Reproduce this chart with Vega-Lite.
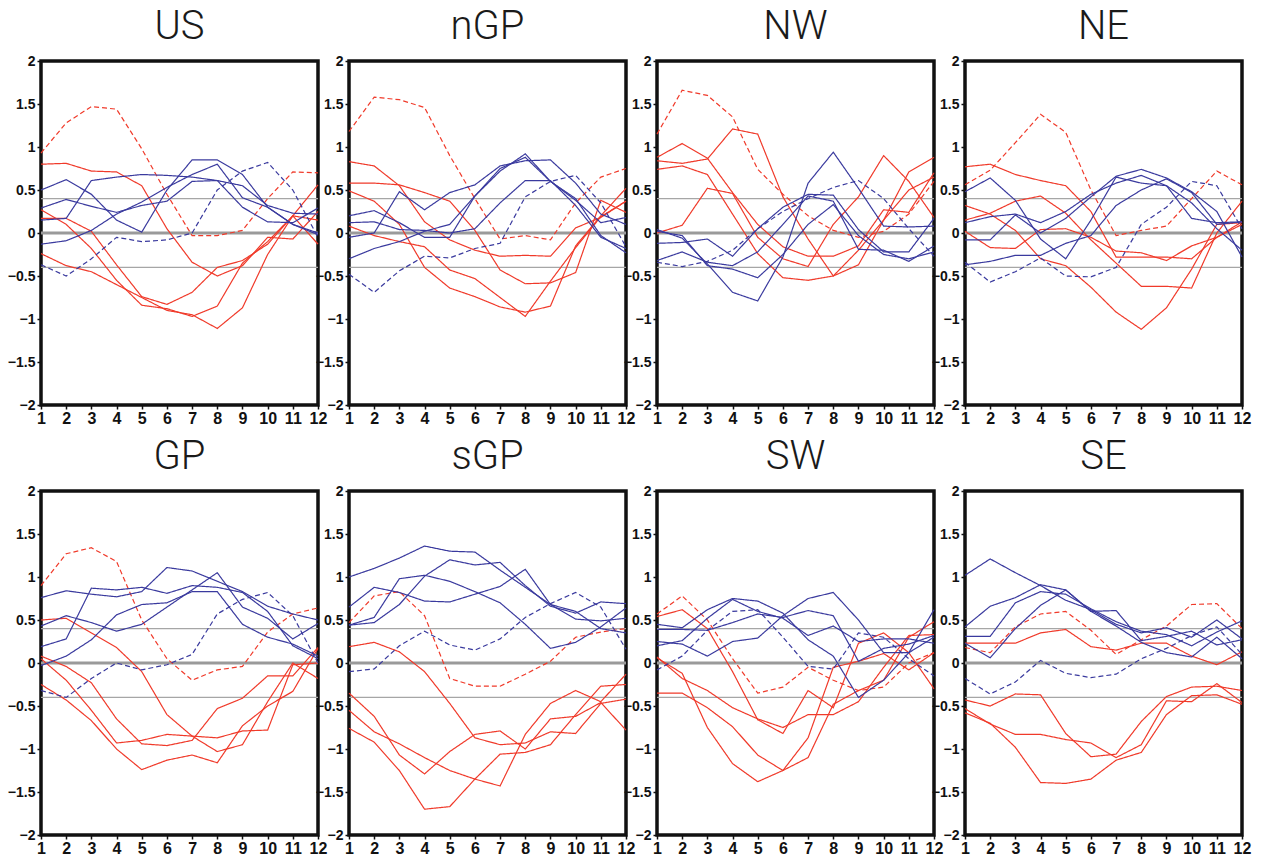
{
"$schema": "https://vega.github.io/schema/vega-lite/v6.json",
"background": "white",
"padding": {"left": 5, "top": 5, "right": 5, "bottom": 5},
"bounds": "flush",
"data": {"values": [
{"r":"US","s":"rd","m":1,"v":0.93},{"r":"US","s":"rd","m":2,"v":1.28},{"r":"US","s":"rd","m":3,"v":1.47},{"r":"US","s":"rd","m":4,"v":1.44},{"r":"US","s":"rd","m":5,"v":0.98},{"r":"US","s":"rd","m":6,"v":0.45},{"r":"US","s":"rd","m":7,"v":-0.03},{"r":"US","s":"rd","m":8,"v":-0.03},{"r":"US","s":"rd","m":9,"v":0.03},{"r":"US","s":"rd","m":10,"v":0.4},{"r":"US","s":"rd","m":11,"v":0.71},{"r":"US","s":"rd","m":12,"v":0.7},
{"r":"US","s":"r1","m":1,"v":0.8},{"r":"US","s":"r1","m":2,"v":0.81},{"r":"US","s":"r1","m":3,"v":0.72},{"r":"US","s":"r1","m":4,"v":0.71},{"r":"US","s":"r1","m":5,"v":0.55},{"r":"US","s":"r1","m":6,"v":0.05},{"r":"US","s":"r1","m":7,"v":-0.34},{"r":"US","s":"r1","m":8,"v":-0.5},{"r":"US","s":"r1","m":9,"v":-0.38},{"r":"US","s":"r1","m":10,"v":-0.05},{"r":"US","s":"r1","m":11,"v":-0.07},{"r":"US","s":"r1","m":12,"v":0.25},
{"r":"US","s":"r2","m":1,"v":0.27},{"r":"US","s":"r2","m":2,"v":0.1},{"r":"US","s":"r2","m":3,"v":-0.18},{"r":"US","s":"r2","m":4,"v":-0.55},{"r":"US","s":"r2","m":5,"v":-0.84},{"r":"US","s":"r2","m":6,"v":-0.88},{"r":"US","s":"r2","m":7,"v":-0.97},{"r":"US","s":"r2","m":8,"v":-0.85},{"r":"US","s":"r2","m":9,"v":-0.35},{"r":"US","s":"r2","m":10,"v":-0.1},{"r":"US","s":"r2","m":11,"v":0.2},{"r":"US","s":"r2","m":12,"v":0.15},
{"r":"US","s":"r3","m":1,"v":0.17},{"r":"US","s":"r3","m":2,"v":0.17},{"r":"US","s":"r3","m":3,"v":0.02},{"r":"US","s":"r3","m":4,"v":-0.37},{"r":"US","s":"r3","m":5,"v":-0.74},{"r":"US","s":"r3","m":6,"v":-0.83},{"r":"US","s":"r3","m":7,"v":-0.69},{"r":"US","s":"r3","m":8,"v":-0.4},{"r":"US","s":"r3","m":9,"v":-0.32},{"r":"US","s":"r3","m":10,"v":-0.13},{"r":"US","s":"r3","m":11,"v":0.2},{"r":"US","s":"r3","m":12,"v":0.56},
{"r":"US","s":"r4","m":1,"v":-0.24},{"r":"US","s":"r4","m":2,"v":-0.38},{"r":"US","s":"r4","m":3,"v":-0.45},{"r":"US","s":"r4","m":4,"v":-0.6},{"r":"US","s":"r4","m":5,"v":-0.75},{"r":"US","s":"r4","m":6,"v":-0.9},{"r":"US","s":"r4","m":7,"v":-0.95},{"r":"US","s":"r4","m":8,"v":-1.11},{"r":"US","s":"r4","m":9,"v":-0.87},{"r":"US","s":"r4","m":10,"v":-0.25},{"r":"US","s":"r4","m":11,"v":0.2},{"r":"US","s":"r4","m":12,"v":-0.13},
{"r":"US","s":"bd","m":1,"v":-0.37},{"r":"US","s":"bd","m":2,"v":-0.5},{"r":"US","s":"bd","m":3,"v":-0.3},{"r":"US","s":"bd","m":4,"v":-0.05},{"r":"US","s":"bd","m":5,"v":-0.1},{"r":"US","s":"bd","m":6,"v":-0.08},{"r":"US","s":"bd","m":7,"v":0},{"r":"US","s":"bd","m":8,"v":0.5},{"r":"US","s":"bd","m":9,"v":0.72},{"r":"US","s":"bd","m":10,"v":0.82},{"r":"US","s":"bd","m":11,"v":0.5},{"r":"US","s":"bd","m":12,"v":-0.05},
{"r":"US","s":"b1","m":1,"v":0.5},{"r":"US","s":"b1","m":2,"v":0.62},{"r":"US","s":"b1","m":3,"v":0.45},{"r":"US","s":"b1","m":4,"v":0.15},{"r":"US","s":"b1","m":5,"v":0.01},{"r":"US","s":"b1","m":6,"v":0.5},{"r":"US","s":"b1","m":7,"v":0.85},{"r":"US","s":"b1","m":8,"v":0.85},{"r":"US","s":"b1","m":9,"v":0.68},{"r":"US","s":"b1","m":10,"v":0.3},{"r":"US","s":"b1","m":11,"v":0.1},{"r":"US","s":"b1","m":12,"v":0},
{"r":"US","s":"b2","m":1,"v":0.29},{"r":"US","s":"b2","m":2,"v":0.39},{"r":"US","s":"b2","m":3,"v":0.31},{"r":"US","s":"b2","m":4,"v":0.24},{"r":"US","s":"b2","m":5,"v":0.32},{"r":"US","s":"b2","m":6,"v":0.37},{"r":"US","s":"b2","m":7,"v":0.6},{"r":"US","s":"b2","m":8,"v":0.61},{"r":"US","s":"b2","m":9,"v":0.3},{"r":"US","s":"b2","m":10,"v":0.13},{"r":"US","s":"b2","m":11,"v":0.12},{"r":"US","s":"b2","m":12,"v":0.29},
{"r":"US","s":"b3","m":1,"v":0.15},{"r":"US","s":"b3","m":2,"v":0.17},{"r":"US","s":"b3","m":3,"v":0.61},{"r":"US","s":"b3","m":4,"v":0.65},{"r":"US","s":"b3","m":5,"v":0.68},{"r":"US","s":"b3","m":6,"v":0.67},{"r":"US","s":"b3","m":7,"v":0.65},{"r":"US","s":"b3","m":8,"v":0.61},{"r":"US","s":"b3","m":9,"v":0.55},{"r":"US","s":"b3","m":10,"v":0.32},{"r":"US","s":"b3","m":11,"v":0.23},{"r":"US","s":"b3","m":12,"v":0.22},
{"r":"US","s":"b4","m":1,"v":-0.13},{"r":"US","s":"b4","m":2,"v":-0.09},{"r":"US","s":"b4","m":3,"v":0.03},{"r":"US","s":"b4","m":4,"v":0.22},{"r":"US","s":"b4","m":5,"v":0.36},{"r":"US","s":"b4","m":6,"v":0.53},{"r":"US","s":"b4","m":7,"v":0.68},{"r":"US","s":"b4","m":8,"v":0.8},{"r":"US","s":"b4","m":9,"v":0.41},{"r":"US","s":"b4","m":10,"v":0.3},{"r":"US","s":"b4","m":11,"v":0.1},{"r":"US","s":"b4","m":12,"v":-0.02},

{"r":"nGP","s":"rd","m":1,"v":1.18},{"r":"nGP","s":"rd","m":2,"v":1.58},{"r":"nGP","s":"rd","m":3,"v":1.55},{"r":"nGP","s":"rd","m":4,"v":1.46},{"r":"nGP","s":"rd","m":5,"v":0.9},{"r":"nGP","s":"rd","m":6,"v":0.4},{"r":"nGP","s":"rd","m":7,"v":-0.07},{"r":"nGP","s":"rd","m":8,"v":-0.03},{"r":"nGP","s":"rd","m":9,"v":-0.08},{"r":"nGP","s":"rd","m":10,"v":0.35},{"r":"nGP","s":"rd","m":11,"v":0.65},{"r":"nGP","s":"rd","m":12,"v":0.75},
{"r":"nGP","s":"r1","m":1,"v":0.83},{"r":"nGP","s":"r1","m":2,"v":0.78},{"r":"nGP","s":"r1","m":3,"v":0.55},{"r":"nGP","s":"r1","m":4,"v":0.13},{"r":"nGP","s":"r1","m":5,"v":-0.08},{"r":"nGP","s":"r1","m":6,"v":-0.2},{"r":"nGP","s":"r1","m":7,"v":-0.27},{"r":"nGP","s":"r1","m":8,"v":-0.26},{"r":"nGP","s":"r1","m":9,"v":-0.27},{"r":"nGP","s":"r1","m":10,"v":0.06},{"r":"nGP","s":"r1","m":11,"v":0.18},{"r":"nGP","s":"r1","m":12,"v":0.37},
{"r":"nGP","s":"r2","m":1,"v":0.58},{"r":"nGP","s":"r2","m":2,"v":0.58},{"r":"nGP","s":"r2","m":3,"v":0.56},{"r":"nGP","s":"r2","m":4,"v":0.47},{"r":"nGP","s":"r2","m":5,"v":0.37},{"r":"nGP","s":"r2","m":6,"v":0.03},{"r":"nGP","s":"r2","m":7,"v":-0.43},{"r":"nGP","s":"r2","m":8,"v":-0.59},{"r":"nGP","s":"r2","m":9,"v":-0.58},{"r":"nGP","s":"r2","m":10,"v":-0.46},{"r":"nGP","s":"r2","m":11,"v":0.38},{"r":"nGP","s":"r2","m":12,"v":0.24},
{"r":"nGP","s":"r3","m":1,"v":0.49},{"r":"nGP","s":"r3","m":2,"v":0.37},{"r":"nGP","s":"r3","m":3,"v":0.1},{"r":"nGP","s":"r3","m":4,"v":-0.4},{"r":"nGP","s":"r3","m":5,"v":-0.64},{"r":"nGP","s":"r3","m":6,"v":-0.74},{"r":"nGP","s":"r3","m":7,"v":-0.86},{"r":"nGP","s":"r3","m":8,"v":-0.92},{"r":"nGP","s":"r3","m":9,"v":-0.85},{"r":"nGP","s":"r3","m":10,"v":-0.15},{"r":"nGP","s":"r3","m":11,"v":0.2},{"r":"nGP","s":"r3","m":12,"v":0.52},
{"r":"nGP","s":"r4","m":1,"v":0.08},{"r":"nGP","s":"r4","m":2,"v":-0.03},{"r":"nGP","s":"r4","m":3,"v":-0.1},{"r":"nGP","s":"r4","m":4,"v":-0.16},{"r":"nGP","s":"r4","m":5,"v":-0.43},{"r":"nGP","s":"r4","m":6,"v":-0.53},{"r":"nGP","s":"r4","m":7,"v":-0.75},{"r":"nGP","s":"r4","m":8,"v":-0.97},{"r":"nGP","s":"r4","m":9,"v":-0.56},{"r":"nGP","s":"r4","m":10,"v":-0.17},{"r":"nGP","s":"r4","m":11,"v":0.19},{"r":"nGP","s":"r4","m":12,"v":0.37},
{"r":"nGP","s":"bd","m":1,"v":-0.48},{"r":"nGP","s":"bd","m":2,"v":-0.69},{"r":"nGP","s":"bd","m":3,"v":-0.44},{"r":"nGP","s":"bd","m":4,"v":-0.27},{"r":"nGP","s":"bd","m":5,"v":-0.29},{"r":"nGP","s":"bd","m":6,"v":-0.18},{"r":"nGP","s":"bd","m":7,"v":-0.12},{"r":"nGP","s":"bd","m":8,"v":0.42},{"r":"nGP","s":"bd","m":9,"v":0.6},{"r":"nGP","s":"bd","m":10,"v":0.67},{"r":"nGP","s":"bd","m":11,"v":0.35},{"r":"nGP","s":"bd","m":12,"v":-0.16},
{"r":"nGP","s":"b1","m":1,"v":0.2},{"r":"nGP","s":"b1","m":2,"v":0.26},{"r":"nGP","s":"b1","m":3,"v":0.12},{"r":"nGP","s":"b1","m":4,"v":-0.05},{"r":"nGP","s":"b1","m":5,"v":-0.05},{"r":"nGP","s":"b1","m":6,"v":0.43},{"r":"nGP","s":"b1","m":7,"v":0.72},{"r":"nGP","s":"b1","m":8,"v":0.92},{"r":"nGP","s":"b1","m":9,"v":0.6},{"r":"nGP","s":"b1","m":10,"v":0.38},{"r":"nGP","s":"b1","m":11,"v":0.12},{"r":"nGP","s":"b1","m":12,"v":0.18},
{"r":"nGP","s":"b2","m":1,"v":0.12},{"r":"nGP","s":"b2","m":2,"v":0.13},{"r":"nGP","s":"b2","m":3,"v":0.04},{"r":"nGP","s":"b2","m":4,"v":0.03},{"r":"nGP","s":"b2","m":5,"v":0},{"r":"nGP","s":"b2","m":6,"v":0.05},{"r":"nGP","s":"b2","m":7,"v":0.35},{"r":"nGP","s":"b2","m":8,"v":0.61},{"r":"nGP","s":"b2","m":9,"v":0.61},{"r":"nGP","s":"b2","m":10,"v":0.32},{"r":"nGP","s":"b2","m":11,"v":-0.05},{"r":"nGP","s":"b2","m":12,"v":-0.18},
{"r":"nGP","s":"b3","m":1,"v":-0.05},{"r":"nGP","s":"b3","m":2,"v":0},{"r":"nGP","s":"b3","m":3,"v":0.48},{"r":"nGP","s":"b3","m":4,"v":0.27},{"r":"nGP","s":"b3","m":5,"v":0.47},{"r":"nGP","s":"b3","m":6,"v":0.56},{"r":"nGP","s":"b3","m":7,"v":0.78},{"r":"nGP","s":"b3","m":8,"v":0.84},{"r":"nGP","s":"b3","m":9,"v":0.85},{"r":"nGP","s":"b3","m":10,"v":0.58},{"r":"nGP","s":"b3","m":11,"v":0.22},{"r":"nGP","s":"b3","m":12,"v":0.1},
{"r":"nGP","s":"b4","m":1,"v":-0.3},{"r":"nGP","s":"b4","m":2,"v":-0.18},{"r":"nGP","s":"b4","m":3,"v":-0.1},{"r":"nGP","s":"b4","m":4,"v":0.02},{"r":"nGP","s":"b4","m":5,"v":0.1},{"r":"nGP","s":"b4","m":6,"v":0.43},{"r":"nGP","s":"b4","m":7,"v":0.75},{"r":"nGP","s":"b4","m":8,"v":0.88},{"r":"nGP","s":"b4","m":9,"v":0.6},{"r":"nGP","s":"b4","m":10,"v":0.4},{"r":"nGP","s":"b4","m":11,"v":-0.03},{"r":"nGP","s":"b4","m":12,"v":-0.23},

{"r":"NW","s":"rd","m":1,"v":1.15},{"r":"NW","s":"rd","m":2,"v":1.66},{"r":"NW","s":"rd","m":3,"v":1.6},{"r":"NW","s":"rd","m":4,"v":1.35},{"r":"NW","s":"rd","m":5,"v":0.74},{"r":"NW","s":"rd","m":6,"v":0.45},{"r":"NW","s":"rd","m":7,"v":0.2},{"r":"NW","s":"rd","m":8,"v":0.03},{"r":"NW","s":"rd","m":9,"v":-0.05},{"r":"NW","s":"rd","m":10,"v":0.02},{"r":"NW","s":"rd","m":11,"v":0.22},{"r":"NW","s":"rd","m":12,"v":0.6},
{"r":"NW","s":"r1","m":1,"v":0.88},{"r":"NW","s":"r1","m":2,"v":1.04},{"r":"NW","s":"r1","m":3,"v":0.87},{"r":"NW","s":"r1","m":4,"v":0.47},{"r":"NW","s":"r1","m":5,"v":0.1},{"r":"NW","s":"r1","m":6,"v":-0.16},{"r":"NW","s":"r1","m":7,"v":-0.27},{"r":"NW","s":"r1","m":8,"v":-0.27},{"r":"NW","s":"r1","m":9,"v":-0.15},{"r":"NW","s":"r1","m":10,"v":0.27},{"r":"NW","s":"r1","m":11,"v":0.24},{"r":"NW","s":"r1","m":12,"v":0.7},
{"r":"NW","s":"r2","m":1,"v":0.84},{"r":"NW","s":"r2","m":2,"v":0.81},{"r":"NW","s":"r2","m":3,"v":0.86},{"r":"NW","s":"r2","m":4,"v":1.21},{"r":"NW","s":"r2","m":5,"v":1.15},{"r":"NW","s":"r2","m":6,"v":0.42},{"r":"NW","s":"r2","m":7,"v":-0.07},{"r":"NW","s":"r2","m":8,"v":-0.5},{"r":"NW","s":"r2","m":9,"v":-0.37},{"r":"NW","s":"r2","m":10,"v":0.15},{"r":"NW","s":"r2","m":11,"v":0.5},{"r":"NW","s":"r2","m":12,"v":0.65},
{"r":"NW","s":"r3","m":1,"v":0.74},{"r":"NW","s":"r3","m":2,"v":0.78},{"r":"NW","s":"r3","m":3,"v":0.68},{"r":"NW","s":"r3","m":4,"v":0.22},{"r":"NW","s":"r3","m":5,"v":-0.24},{"r":"NW","s":"r3","m":6,"v":-0.52},{"r":"NW","s":"r3","m":7,"v":-0.55},{"r":"NW","s":"r3","m":8,"v":-0.5},{"r":"NW","s":"r3","m":9,"v":-0.2},{"r":"NW","s":"r3","m":10,"v":0.15},{"r":"NW","s":"r3","m":11,"v":0.71},{"r":"NW","s":"r3","m":12,"v":0.88},
{"r":"NW","s":"r4","m":1,"v":0},{"r":"NW","s":"r4","m":2,"v":0.09},{"r":"NW","s":"r4","m":3,"v":0.52},{"r":"NW","s":"r4","m":4,"v":0.46},{"r":"NW","s":"r4","m":5,"v":-0.05},{"r":"NW","s":"r4","m":6,"v":-0.3},{"r":"NW","s":"r4","m":7,"v":-0.39},{"r":"NW","s":"r4","m":8,"v":0.1},{"r":"NW","s":"r4","m":9,"v":0.42},{"r":"NW","s":"r4","m":10,"v":0.9},{"r":"NW","s":"r4","m":11,"v":0.6},{"r":"NW","s":"r4","m":12,"v":0.18},
{"r":"NW","s":"bd","m":1,"v":-0.34},{"r":"NW","s":"bd","m":2,"v":-0.39},{"r":"NW","s":"bd","m":3,"v":-0.33},{"r":"NW","s":"bd","m":4,"v":-0.2},{"r":"NW","s":"bd","m":5,"v":0.05},{"r":"NW","s":"bd","m":6,"v":0.25},{"r":"NW","s":"bd","m":7,"v":0.4},{"r":"NW","s":"bd","m":8,"v":0.53},{"r":"NW","s":"bd","m":9,"v":0.61},{"r":"NW","s":"bd","m":10,"v":0.4},{"r":"NW","s":"bd","m":11,"v":0.05},{"r":"NW","s":"bd","m":12,"v":-0.27},
{"r":"NW","s":"b1","m":1,"v":0.04},{"r":"NW","s":"b1","m":2,"v":-0.06},{"r":"NW","s":"b1","m":3,"v":-0.36},{"r":"NW","s":"b1","m":4,"v":-0.69},{"r":"NW","s":"b1","m":5,"v":-0.79},{"r":"NW","s":"b1","m":6,"v":-0.28},{"r":"NW","s":"b1","m":7,"v":0.58},{"r":"NW","s":"b1","m":8,"v":0.94},{"r":"NW","s":"b1","m":9,"v":0.52},{"r":"NW","s":"b1","m":10,"v":0.08},{"r":"NW","s":"b1","m":11,"v":0.07},{"r":"NW","s":"b1","m":12,"v":0.08},
{"r":"NW","s":"b2","m":1,"v":-0.12},{"r":"NW","s":"b2","m":2,"v":-0.11},{"r":"NW","s":"b2","m":3,"v":-0.07},{"r":"NW","s":"b2","m":4,"v":-0.27},{"r":"NW","s":"b2","m":5,"v":0.05},{"r":"NW","s":"b2","m":6,"v":0.3},{"r":"NW","s":"b2","m":7,"v":0.45},{"r":"NW","s":"b2","m":8,"v":0.44},{"r":"NW","s":"b2","m":9,"v":0.04},{"r":"NW","s":"b2","m":10,"v":-0.22},{"r":"NW","s":"b2","m":11,"v":-0.22},{"r":"NW","s":"b2","m":12,"v":0.17},
{"r":"NW","s":"b3","m":1,"v":-0.32},{"r":"NW","s":"b3","m":2,"v":-0.22},{"r":"NW","s":"b3","m":3,"v":-0.34},{"r":"NW","s":"b3","m":4,"v":-0.38},{"r":"NW","s":"b3","m":5,"v":-0.22},{"r":"NW","s":"b3","m":6,"v":0.1},{"r":"NW","s":"b3","m":7,"v":0.43},{"r":"NW","s":"b3","m":8,"v":0.37},{"r":"NW","s":"b3","m":9,"v":-0.19},{"r":"NW","s":"b3","m":10,"v":-0.2},{"r":"NW","s":"b3","m":11,"v":-0.33},{"r":"NW","s":"b3","m":12,"v":-0.15},
{"r":"NW","s":"b4","m":1,"v":0.02},{"r":"NW","s":"b4","m":2,"v":-0.03},{"r":"NW","s":"b4","m":3,"v":-0.38},{"r":"NW","s":"b4","m":4,"v":-0.42},{"r":"NW","s":"b4","m":5,"v":-0.52},{"r":"NW","s":"b4","m":6,"v":-0.25},{"r":"NW","s":"b4","m":7,"v":0.1},{"r":"NW","s":"b4","m":8,"v":0.33},{"r":"NW","s":"b4","m":9,"v":-0.03},{"r":"NW","s":"b4","m":10,"v":-0.25},{"r":"NW","s":"b4","m":11,"v":-0.3},{"r":"NW","s":"b4","m":12,"v":-0.22},

{"r":"NE","s":"rd","m":1,"v":0.56},{"r":"NE","s":"rd","m":2,"v":0.73},{"r":"NE","s":"rd","m":3,"v":1.05},{"r":"NE","s":"rd","m":4,"v":1.38},{"r":"NE","s":"rd","m":5,"v":1.17},{"r":"NE","s":"rd","m":6,"v":0.5},{"r":"NE","s":"rd","m":7,"v":-0.03},{"r":"NE","s":"rd","m":8,"v":0.03},{"r":"NE","s":"rd","m":9,"v":0.08},{"r":"NE","s":"rd","m":10,"v":0.4},{"r":"NE","s":"rd","m":11,"v":0.72},{"r":"NE","s":"rd","m":12,"v":0.56},
{"r":"NE","s":"r1","m":1,"v":0.77},{"r":"NE","s":"r1","m":2,"v":0.8},{"r":"NE","s":"r1","m":3,"v":0.68},{"r":"NE","s":"r1","m":4,"v":0.61},{"r":"NE","s":"r1","m":5,"v":0.55},{"r":"NE","s":"r1","m":6,"v":0.25},{"r":"NE","s":"r1","m":7,"v":-0.28},{"r":"NE","s":"r1","m":8,"v":-0.28},{"r":"NE","s":"r1","m":9,"v":-0.28},{"r":"NE","s":"r1","m":10,"v":-0.3},{"r":"NE","s":"r1","m":11,"v":-0.05},{"r":"NE","s":"r1","m":12,"v":0.13},
{"r":"NE","s":"r2","m":1,"v":0.32},{"r":"NE","s":"r2","m":2,"v":0.22},{"r":"NE","s":"r2","m":3,"v":0.03},{"r":"NE","s":"r2","m":4,"v":-0.3},{"r":"NE","s":"r2","m":5,"v":-0.38},{"r":"NE","s":"r2","m":6,"v":-0.63},{"r":"NE","s":"r2","m":7,"v":-0.92},{"r":"NE","s":"r2","m":8,"v":-1.12},{"r":"NE","s":"r2","m":9,"v":-0.87},{"r":"NE","s":"r2","m":10,"v":-0.42},{"r":"NE","s":"r2","m":11,"v":0.1},{"r":"NE","s":"r2","m":12,"v":0.12},
{"r":"NE","s":"r3","m":1,"v":0.15},{"r":"NE","s":"r3","m":2,"v":0.23},{"r":"NE","s":"r3","m":3,"v":0.37},{"r":"NE","s":"r3","m":4,"v":0.43},{"r":"NE","s":"r3","m":5,"v":0.23},{"r":"NE","s":"r3","m":6,"v":-0.08},{"r":"NE","s":"r3","m":7,"v":-0.35},{"r":"NE","s":"r3","m":8,"v":-0.62},{"r":"NE","s":"r3","m":9,"v":-0.62},{"r":"NE","s":"r3","m":10,"v":-0.64},{"r":"NE","s":"r3","m":11,"v":0},{"r":"NE","s":"r3","m":12,"v":0.37},
{"r":"NE","s":"r4","m":1,"v":0.02},{"r":"NE","s":"r4","m":2,"v":-0.17},{"r":"NE","s":"r4","m":3,"v":-0.18},{"r":"NE","s":"r4","m":4,"v":0.04},{"r":"NE","s":"r4","m":5,"v":0.05},{"r":"NE","s":"r4","m":6,"v":-0.05},{"r":"NE","s":"r4","m":7,"v":-0.21},{"r":"NE","s":"r4","m":8,"v":-0.23},{"r":"NE","s":"r4","m":9,"v":-0.32},{"r":"NE","s":"r4","m":10,"v":-0.15},{"r":"NE","s":"r4","m":11,"v":-0.05},{"r":"NE","s":"r4","m":12,"v":0.1},
{"r":"NE","s":"bd","m":1,"v":-0.34},{"r":"NE","s":"bd","m":2,"v":-0.57},{"r":"NE","s":"bd","m":3,"v":-0.45},{"r":"NE","s":"bd","m":4,"v":-0.29},{"r":"NE","s":"bd","m":5,"v":-0.5},{"r":"NE","s":"bd","m":6,"v":-0.51},{"r":"NE","s":"bd","m":7,"v":-0.4},{"r":"NE","s":"bd","m":8,"v":0.1},{"r":"NE","s":"bd","m":9,"v":0.3},{"r":"NE","s":"bd","m":10,"v":0.6},{"r":"NE","s":"bd","m":11,"v":0.55},{"r":"NE","s":"bd","m":12,"v":0.05},
{"r":"NE","s":"b1","m":1,"v":0.48},{"r":"NE","s":"b1","m":2,"v":0.64},{"r":"NE","s":"b1","m":3,"v":0.38},{"r":"NE","s":"b1","m":4,"v":-0.07},{"r":"NE","s":"b1","m":5,"v":-0.3},{"r":"NE","s":"b1","m":6,"v":0.15},{"r":"NE","s":"b1","m":7,"v":0.65},{"r":"NE","s":"b1","m":8,"v":0.58},{"r":"NE","s":"b1","m":9,"v":0.55},{"r":"NE","s":"b1","m":10,"v":0.17},{"r":"NE","s":"b1","m":11,"v":0.12},{"r":"NE","s":"b1","m":12,"v":0.13},
{"r":"NE","s":"b2","m":1,"v":0.12},{"r":"NE","s":"b2","m":2,"v":0.19},{"r":"NE","s":"b2","m":3,"v":0.22},{"r":"NE","s":"b2","m":4,"v":0.12},{"r":"NE","s":"b2","m":5,"v":0.25},{"r":"NE","s":"b2","m":6,"v":0.45},{"r":"NE","s":"b2","m":7,"v":0.58},{"r":"NE","s":"b2","m":8,"v":0.67},{"r":"NE","s":"b2","m":9,"v":0.55},{"r":"NE","s":"b2","m":10,"v":0.35},{"r":"NE","s":"b2","m":11,"v":0.05},{"r":"NE","s":"b2","m":12,"v":-0.2},
{"r":"NE","s":"b3","m":1,"v":-0.08},{"r":"NE","s":"b3","m":2,"v":-0.08},{"r":"NE","s":"b3","m":3,"v":0.21},{"r":"NE","s":"b3","m":4,"v":0},{"r":"NE","s":"b3","m":5,"v":0.17},{"r":"NE","s":"b3","m":6,"v":0.42},{"r":"NE","s":"b3","m":7,"v":0.66},{"r":"NE","s":"b3","m":8,"v":0.74},{"r":"NE","s":"b3","m":9,"v":0.64},{"r":"NE","s":"b3","m":10,"v":0.48},{"r":"NE","s":"b3","m":11,"v":0.25},{"r":"NE","s":"b3","m":12,"v":-0.28},
{"r":"NE","s":"b4","m":1,"v":-0.37},{"r":"NE","s":"b4","m":2,"v":-0.33},{"r":"NE","s":"b4","m":3,"v":-0.26},{"r":"NE","s":"b4","m":4,"v":-0.26},{"r":"NE","s":"b4","m":5,"v":-0.12},{"r":"NE","s":"b4","m":6,"v":-0.03},{"r":"NE","s":"b4","m":7,"v":0.32},{"r":"NE","s":"b4","m":8,"v":0.5},{"r":"NE","s":"b4","m":9,"v":0.63},{"r":"NE","s":"b4","m":10,"v":0.47},{"r":"NE","s":"b4","m":11,"v":0.1},{"r":"NE","s":"b4","m":12,"v":0.13},

{"r":"GP","s":"rd","m":1,"v":0.9},{"r":"GP","s":"rd","m":2,"v":1.27},{"r":"GP","s":"rd","m":3,"v":1.34},{"r":"GP","s":"rd","m":4,"v":1.18},{"r":"GP","s":"rd","m":5,"v":0.5},{"r":"GP","s":"rd","m":6,"v":0.05},{"r":"GP","s":"rd","m":7,"v":-0.2},{"r":"GP","s":"rd","m":8,"v":-0.08},{"r":"GP","s":"rd","m":9,"v":-0.04},{"r":"GP","s":"rd","m":10,"v":0.36},{"r":"GP","s":"rd","m":11,"v":0.57},{"r":"GP","s":"rd","m":12,"v":0.64},
{"r":"GP","s":"r1","m":1,"v":0.5},{"r":"GP","s":"r1","m":2,"v":0.52},{"r":"GP","s":"r1","m":3,"v":0.35},{"r":"GP","s":"r1","m":4,"v":0.18},{"r":"GP","s":"r1","m":5,"v":-0.1},{"r":"GP","s":"r1","m":6,"v":-0.6},{"r":"GP","s":"r1","m":7,"v":-0.85},{"r":"GP","s":"r1","m":8,"v":-1.03},{"r":"GP","s":"r1","m":9,"v":-0.95},{"r":"GP","s":"r1","m":10,"v":-0.45},{"r":"GP","s":"r1","m":11,"v":0},{"r":"GP","s":"r1","m":12,"v":-0.18},
{"r":"GP","s":"r2","m":1,"v":0.08},{"r":"GP","s":"r2","m":2,"v":-0.04},{"r":"GP","s":"r2","m":3,"v":-0.23},{"r":"GP","s":"r2","m":4,"v":-0.65},{"r":"GP","s":"r2","m":5,"v":-0.94},{"r":"GP","s":"r2","m":6,"v":-0.96},{"r":"GP","s":"r2","m":7,"v":-0.9},{"r":"GP","s":"r2","m":8,"v":-0.53},{"r":"GP","s":"r2","m":9,"v":-0.41},{"r":"GP","s":"r2","m":10,"v":-0.15},{"r":"GP","s":"r2","m":11,"v":-0.15},{"r":"GP","s":"r2","m":12,"v":0.18},
{"r":"GP","s":"r3","m":1,"v":0.05},{"r":"GP","s":"r3","m":2,"v":-0.2},{"r":"GP","s":"r3","m":3,"v":-0.55},{"r":"GP","s":"r3","m":4,"v":-0.93},{"r":"GP","s":"r3","m":5,"v":-0.9},{"r":"GP","s":"r3","m":6,"v":-0.83},{"r":"GP","s":"r3","m":7,"v":-0.85},{"r":"GP","s":"r3","m":8,"v":-0.87},{"r":"GP","s":"r3","m":9,"v":-0.79},{"r":"GP","s":"r3","m":10,"v":-0.78},{"r":"GP","s":"r3","m":11,"v":-0.02},{"r":"GP","s":"r3","m":12,"v":0},
{"r":"GP","s":"r4","m":1,"v":-0.25},{"r":"GP","s":"r4","m":2,"v":-0.43},{"r":"GP","s":"r4","m":3,"v":-0.67},{"r":"GP","s":"r4","m":4,"v":-1},{"r":"GP","s":"r4","m":5,"v":-1.24},{"r":"GP","s":"r4","m":6,"v":-1.13},{"r":"GP","s":"r4","m":7,"v":-1.07},{"r":"GP","s":"r4","m":8,"v":-1.16},{"r":"GP","s":"r4","m":9,"v":-0.73},{"r":"GP","s":"r4","m":10,"v":-0.5},{"r":"GP","s":"r4","m":11,"v":-0.33},{"r":"GP","s":"r4","m":12,"v":0.17},
{"r":"GP","s":"bd","m":1,"v":-0.32},{"r":"GP","s":"bd","m":2,"v":-0.4},{"r":"GP","s":"bd","m":3,"v":-0.18},{"r":"GP","s":"bd","m":4,"v":0},{"r":"GP","s":"bd","m":5,"v":-0.08},{"r":"GP","s":"bd","m":6,"v":-0.02},{"r":"GP","s":"bd","m":7,"v":0.1},{"r":"GP","s":"bd","m":8,"v":0.57},{"r":"GP","s":"bd","m":9,"v":0.74},{"r":"GP","s":"bd","m":10,"v":0.82},{"r":"GP","s":"bd","m":11,"v":0.55},{"r":"GP","s":"bd","m":12,"v":0},
{"r":"GP","s":"b1","m":1,"v":0.76},{"r":"GP","s":"b1","m":2,"v":0.84},{"r":"GP","s":"b1","m":3,"v":0.8},{"r":"GP","s":"b1","m":4,"v":0.77},{"r":"GP","s":"b1","m":5,"v":0.83},{"r":"GP","s":"b1","m":6,"v":1.11},{"r":"GP","s":"b1","m":7,"v":1.07},{"r":"GP","s":"b1","m":8,"v":0.95},{"r":"GP","s":"b1","m":9,"v":0.83},{"r":"GP","s":"b1","m":10,"v":0.66},{"r":"GP","s":"b1","m":11,"v":0.57},{"r":"GP","s":"b1","m":12,"v":0.5},
{"r":"GP","s":"b2","m":1,"v":0.43},{"r":"GP","s":"b2","m":2,"v":0.55},{"r":"GP","s":"b2","m":3,"v":0.47},{"r":"GP","s":"b2","m":4,"v":0.37},{"r":"GP","s":"b2","m":5,"v":0.45},{"r":"GP","s":"b2","m":6,"v":0.65},{"r":"GP","s":"b2","m":7,"v":0.85},{"r":"GP","s":"b2","m":8,"v":1.05},{"r":"GP","s":"b2","m":9,"v":0.65},{"r":"GP","s":"b2","m":10,"v":0.52},{"r":"GP","s":"b2","m":11,"v":0.28},{"r":"GP","s":"b2","m":12,"v":0.46},
{"r":"GP","s":"b3","m":1,"v":0.19},{"r":"GP","s":"b3","m":2,"v":0.28},{"r":"GP","s":"b3","m":3,"v":0.87},{"r":"GP","s":"b3","m":4,"v":0.85},{"r":"GP","s":"b3","m":5,"v":0.88},{"r":"GP","s":"b3","m":6,"v":0.81},{"r":"GP","s":"b3","m":7,"v":0.9},{"r":"GP","s":"b3","m":8,"v":0.88},{"r":"GP","s":"b3","m":9,"v":0.82},{"r":"GP","s":"b3","m":10,"v":0.6},{"r":"GP","s":"b3","m":11,"v":0.2},{"r":"GP","s":"b3","m":12,"v":0.05},
{"r":"GP","s":"b4","m":1,"v":-0.03},{"r":"GP","s":"b4","m":2,"v":0.08},{"r":"GP","s":"b4","m":3,"v":0.27},{"r":"GP","s":"b4","m":4,"v":0.56},{"r":"GP","s":"b4","m":5,"v":0.68},{"r":"GP","s":"b4","m":6,"v":0.7},{"r":"GP","s":"b4","m":7,"v":0.83},{"r":"GP","s":"b4","m":8,"v":0.83},{"r":"GP","s":"b4","m":9,"v":0.45},{"r":"GP","s":"b4","m":10,"v":0.3},{"r":"GP","s":"b4","m":11,"v":0.22},{"r":"GP","s":"b4","m":12,"v":0.08},

{"r":"sGP","s":"rd","m":1,"v":0.47},{"r":"sGP","s":"rd","m":2,"v":0.78},{"r":"sGP","s":"rd","m":3,"v":0.83},{"r":"sGP","s":"rd","m":4,"v":0.55},{"r":"sGP","s":"rd","m":5,"v":-0.18},{"r":"sGP","s":"rd","m":6,"v":-0.27},{"r":"sGP","s":"rd","m":7,"v":-0.27},{"r":"sGP","s":"rd","m":8,"v":-0.13},{"r":"sGP","s":"rd","m":9,"v":0.02},{"r":"sGP","s":"rd","m":10,"v":0.3},{"r":"sGP","s":"rd","m":11,"v":0.36},{"r":"sGP","s":"rd","m":12,"v":0.4},
{"r":"sGP","s":"r1","m":1,"v":0.19},{"r":"sGP","s":"r1","m":2,"v":0.24},{"r":"sGP","s":"r1","m":3,"v":0.13},{"r":"sGP","s":"r1","m":4,"v":-0.1},{"r":"sGP","s":"r1","m":5,"v":-0.47},{"r":"sGP","s":"r1","m":6,"v":-0.87},{"r":"sGP","s":"r1","m":7,"v":-0.95},{"r":"sGP","s":"r1","m":8,"v":-0.93},{"r":"sGP","s":"r1","m":9,"v":-0.8},{"r":"sGP","s":"r1","m":10,"v":-0.82},{"r":"sGP","s":"r1","m":11,"v":-0.47},{"r":"sGP","s":"r1","m":12,"v":-0.42},
{"r":"sGP","s":"r2","m":1,"v":-0.35},{"r":"sGP","s":"r2","m":2,"v":-0.62},{"r":"sGP","s":"r2","m":3,"v":-1.07},{"r":"sGP","s":"r2","m":4,"v":-1.29},{"r":"sGP","s":"r2","m":5,"v":-1.03},{"r":"sGP","s":"r2","m":6,"v":-0.83},{"r":"sGP","s":"r2","m":7,"v":-0.79},{"r":"sGP","s":"r2","m":8,"v":-1},{"r":"sGP","s":"r2","m":9,"v":-0.65},{"r":"sGP","s":"r2","m":10,"v":-0.62},{"r":"sGP","s":"r2","m":11,"v":-0.46},{"r":"sGP","s":"r2","m":12,"v":-0.78},
{"r":"sGP","s":"r3","m":1,"v":-0.55},{"r":"sGP","s":"r3","m":2,"v":-0.8},{"r":"sGP","s":"r3","m":3,"v":-0.94},{"r":"sGP","s":"r3","m":4,"v":-1.1},{"r":"sGP","s":"r3","m":5,"v":-1.25},{"r":"sGP","s":"r3","m":6,"v":-1.35},{"r":"sGP","s":"r3","m":7,"v":-1.43},{"r":"sGP","s":"r3","m":8,"v":-0.83},{"r":"sGP","s":"r3","m":9,"v":-0.47},{"r":"sGP","s":"r3","m":10,"v":-0.32},{"r":"sGP","s":"r3","m":11,"v":-0.45},{"r":"sGP","s":"r3","m":12,"v":-0.13},
{"r":"sGP","s":"r4","m":1,"v":-0.76},{"r":"sGP","s":"r4","m":2,"v":-0.92},{"r":"sGP","s":"r4","m":3,"v":-1.25},{"r":"sGP","s":"r4","m":4,"v":-1.7},{"r":"sGP","s":"r4","m":5,"v":-1.67},{"r":"sGP","s":"r4","m":6,"v":-1.35},{"r":"sGP","s":"r4","m":7,"v":-1.06},{"r":"sGP","s":"r4","m":8,"v":-1.04},{"r":"sGP","s":"r4","m":9,"v":-0.95},{"r":"sGP","s":"r4","m":10,"v":-0.6},{"r":"sGP","s":"r4","m":11,"v":-0.27},{"r":"sGP","s":"r4","m":12,"v":-0.25},
{"r":"sGP","s":"bd","m":1,"v":-0.1},{"r":"sGP","s":"bd","m":2,"v":-0.07},{"r":"sGP","s":"bd","m":3,"v":0.2},{"r":"sGP","s":"bd","m":4,"v":0.37},{"r":"sGP","s":"bd","m":5,"v":0.21},{"r":"sGP","s":"bd","m":6,"v":0.15},{"r":"sGP","s":"bd","m":7,"v":0.28},{"r":"sGP","s":"bd","m":8,"v":0.53},{"r":"sGP","s":"bd","m":9,"v":0.69},{"r":"sGP","s":"bd","m":10,"v":0.82},{"r":"sGP","s":"bd","m":11,"v":0.65},{"r":"sGP","s":"bd","m":12,"v":0.16},
{"r":"sGP","s":"b1","m":1,"v":1},{"r":"sGP","s":"b1","m":2,"v":1.1},{"r":"sGP","s":"b1","m":3,"v":1.22},{"r":"sGP","s":"b1","m":4,"v":1.36},{"r":"sGP","s":"b1","m":5,"v":1.3},{"r":"sGP","s":"b1","m":6,"v":1.29},{"r":"sGP","s":"b1","m":7,"v":1.08},{"r":"sGP","s":"b1","m":8,"v":0.88},{"r":"sGP","s":"b1","m":9,"v":0.68},{"r":"sGP","s":"b1","m":10,"v":0.6},{"r":"sGP","s":"b1","m":11,"v":0.4},{"r":"sGP","s":"b1","m":12,"v":0.35},
{"r":"sGP","s":"b2","m":1,"v":0.65},{"r":"sGP","s":"b2","m":2,"v":0.88},{"r":"sGP","s":"b2","m":3,"v":0.82},{"r":"sGP","s":"b2","m":4,"v":0.72},{"r":"sGP","s":"b2","m":5,"v":0.71},{"r":"sGP","s":"b2","m":6,"v":0.8},{"r":"sGP","s":"b2","m":7,"v":0.89},{"r":"sGP","s":"b2","m":8,"v":1.09},{"r":"sGP","s":"b2","m":9,"v":0.68},{"r":"sGP","s":"b2","m":10,"v":0.51},{"r":"sGP","s":"b2","m":11,"v":0.49},{"r":"sGP","s":"b2","m":12,"v":0.52},
{"r":"sGP","s":"b3","m":1,"v":0.44},{"r":"sGP","s":"b3","m":2,"v":0.53},{"r":"sGP","s":"b3","m":3,"v":0.98},{"r":"sGP","s":"b3","m":4,"v":1.02},{"r":"sGP","s":"b3","m":5,"v":0.95},{"r":"sGP","s":"b3","m":6,"v":0.83},{"r":"sGP","s":"b3","m":7,"v":0.7},{"r":"sGP","s":"b3","m":8,"v":0.45},{"r":"sGP","s":"b3","m":9,"v":0.17},{"r":"sGP","s":"b3","m":10,"v":0.24},{"r":"sGP","s":"b3","m":11,"v":0.42},{"r":"sGP","s":"b3","m":12,"v":0.64},
{"r":"sGP","s":"b4","m":1,"v":0.44},{"r":"sGP","s":"b4","m":2,"v":0.47},{"r":"sGP","s":"b4","m":3,"v":0.68},{"r":"sGP","s":"b4","m":4,"v":1.01},{"r":"sGP","s":"b4","m":5,"v":1.2},{"r":"sGP","s":"b4","m":6,"v":1.14},{"r":"sGP","s":"b4","m":7,"v":1.17},{"r":"sGP","s":"b4","m":8,"v":0.9},{"r":"sGP","s":"b4","m":9,"v":0.66},{"r":"sGP","s":"b4","m":10,"v":0.58},{"r":"sGP","s":"b4","m":11,"v":0.71},{"r":"sGP","s":"b4","m":12,"v":0.69},

{"r":"SW","s":"rd","m":1,"v":0.57},{"r":"SW","s":"rd","m":2,"v":0.78},{"r":"SW","s":"rd","m":3,"v":0.5},{"r":"SW","s":"rd","m":4,"v":0.05},{"r":"SW","s":"rd","m":5,"v":-0.35},{"r":"SW","s":"rd","m":6,"v":-0.28},{"r":"SW","s":"rd","m":7,"v":-0.05},{"r":"SW","s":"rd","m":8,"v":-0.2},{"r":"SW","s":"rd","m":9,"v":-0.32},{"r":"SW","s":"rd","m":10,"v":-0.28},{"r":"SW","s":"rd","m":11,"v":0},{"r":"SW","s":"rd","m":12,"v":0.12},
{"r":"SW","s":"r1","m":1,"v":0.54},{"r":"SW","s":"r1","m":2,"v":0.62},{"r":"SW","s":"r1","m":3,"v":0.4},{"r":"SW","s":"r1","m":4,"v":-0.1},{"r":"SW","s":"r1","m":5,"v":-0.66},{"r":"SW","s":"r1","m":6,"v":-0.82},{"r":"SW","s":"r1","m":7,"v":-0.32},{"r":"SW","s":"r1","m":8,"v":-0.52},{"r":"SW","s":"r1","m":9,"v":0.23},{"r":"SW","s":"r1","m":10,"v":0.35},{"r":"SW","s":"r1","m":11,"v":0.12},{"r":"SW","s":"r1","m":12,"v":-0.3},
{"r":"SW","s":"r2","m":1,"v":0.07},{"r":"SW","s":"r2","m":2,"v":-0.18},{"r":"SW","s":"r2","m":3,"v":-0.32},{"r":"SW","s":"r2","m":4,"v":-0.52},{"r":"SW","s":"r2","m":5,"v":-0.65},{"r":"SW","s":"r2","m":6,"v":-0.75},{"r":"SW","s":"r2","m":7,"v":-0.6},{"r":"SW","s":"r2","m":8,"v":-0.6},{"r":"SW","s":"r2","m":9,"v":-0.45},{"r":"SW","s":"r2","m":10,"v":-0.05},{"r":"SW","s":"r2","m":11,"v":0.32},{"r":"SW","s":"r2","m":12,"v":0.33},
{"r":"SW","s":"r3","m":1,"v":0.06},{"r":"SW","s":"r3","m":2,"v":-0.12},{"r":"SW","s":"r3","m":3,"v":-0.75},{"r":"SW","s":"r3","m":4,"v":-1.17},{"r":"SW","s":"r3","m":5,"v":-1.38},{"r":"SW","s":"r3","m":6,"v":-1.25},{"r":"SW","s":"r3","m":7,"v":-0.87},{"r":"SW","s":"r3","m":8,"v":-0.05},{"r":"SW","s":"r3","m":9,"v":0.02},{"r":"SW","s":"r3","m":10,"v":0.11},{"r":"SW","s":"r3","m":11,"v":-0.08},{"r":"SW","s":"r3","m":12,"v":0.12},
{"r":"SW","s":"r4","m":1,"v":-0.35},{"r":"SW","s":"r4","m":2,"v":-0.35},{"r":"SW","s":"r4","m":3,"v":-0.52},{"r":"SW","s":"r4","m":4,"v":-0.74},{"r":"SW","s":"r4","m":5,"v":-1.07},{"r":"SW","s":"r4","m":6,"v":-1.25},{"r":"SW","s":"r4","m":7,"v":-1.1},{"r":"SW","s":"r4","m":8,"v":-0.48},{"r":"SW","s":"r4","m":9,"v":-0.32},{"r":"SW","s":"r4","m":10,"v":-0.2},{"r":"SW","s":"r4","m":11,"v":0.3},{"r":"SW","s":"r4","m":12,"v":0.48},
{"r":"SW","s":"bd","m":1,"v":-0.08},{"r":"SW","s":"bd","m":2,"v":0.08},{"r":"SW","s":"bd","m":3,"v":0.38},{"r":"SW","s":"bd","m":4,"v":0.6},{"r":"SW","s":"bd","m":5,"v":0.62},{"r":"SW","s":"bd","m":6,"v":0.3},{"r":"SW","s":"bd","m":7,"v":-0.04},{"r":"SW","s":"bd","m":8,"v":-0.07},{"r":"SW","s":"bd","m":9,"v":0.35},{"r":"SW","s":"bd","m":10,"v":0.3},{"r":"SW","s":"bd","m":11,"v":0.05},{"r":"SW","s":"bd","m":12,"v":-0.15},
{"r":"SW","s":"b1","m":1,"v":0.45},{"r":"SW","s":"b1","m":2,"v":0.41},{"r":"SW","s":"b1","m":3,"v":0.62},{"r":"SW","s":"b1","m":4,"v":0.75},{"r":"SW","s":"b1","m":5,"v":0.72},{"r":"SW","s":"b1","m":6,"v":0.58},{"r":"SW","s":"b1","m":7,"v":0.27},{"r":"SW","s":"b1","m":8,"v":0.08},{"r":"SW","s":"b1","m":9,"v":-0.4},{"r":"SW","s":"b1","m":10,"v":-0.2},{"r":"SW","s":"b1","m":11,"v":0.12},{"r":"SW","s":"b1","m":12,"v":0.62},
{"r":"SW","s":"b2","m":1,"v":0.39},{"r":"SW","s":"b2","m":2,"v":0.39},{"r":"SW","s":"b2","m":3,"v":0.38},{"r":"SW","s":"b2","m":4,"v":0.47},{"r":"SW","s":"b2","m":5,"v":0.57},{"r":"SW","s":"b2","m":6,"v":0.53},{"r":"SW","s":"b2","m":7,"v":0.61},{"r":"SW","s":"b2","m":8,"v":0.55},{"r":"SW","s":"b2","m":9,"v":0.02},{"r":"SW","s":"b2","m":10,"v":0.17},{"r":"SW","s":"b2","m":11,"v":0.22},{"r":"SW","s":"b2","m":12,"v":0.32},
{"r":"SW","s":"b3","m":1,"v":0.25},{"r":"SW","s":"b3","m":2,"v":0.22},{"r":"SW","s":"b3","m":3,"v":0.08},{"r":"SW","s":"b3","m":4,"v":0.25},{"r":"SW","s":"b3","m":5,"v":0.29},{"r":"SW","s":"b3","m":6,"v":0.55},{"r":"SW","s":"b3","m":7,"v":0.75},{"r":"SW","s":"b3","m":8,"v":0.82},{"r":"SW","s":"b3","m":9,"v":0.5},{"r":"SW","s":"b3","m":10,"v":0.12},{"r":"SW","s":"b3","m":11,"v":0.12},{"r":"SW","s":"b3","m":12,"v":0.3},
{"r":"SW","s":"b4","m":1,"v":0.2},{"r":"SW","s":"b4","m":2,"v":0.26},{"r":"SW","s":"b4","m":3,"v":0.52},{"r":"SW","s":"b4","m":4,"v":0.74},{"r":"SW","s":"b4","m":5,"v":0.6},{"r":"SW","s":"b4","m":6,"v":0.52},{"r":"SW","s":"b4","m":7,"v":0.32},{"r":"SW","s":"b4","m":8,"v":0.43},{"r":"SW","s":"b4","m":9,"v":0.25},{"r":"SW","s":"b4","m":10,"v":0.28},{"r":"SW","s":"b4","m":11,"v":0.28},{"r":"SW","s":"b4","m":12,"v":0.23},

{"r":"SE","s":"rd","m":1,"v":0.18},{"r":"SE","s":"rd","m":2,"v":0.12},{"r":"SE","s":"rd","m":3,"v":0.42},{"r":"SE","s":"rd","m":4,"v":0.57},{"r":"SE","s":"rd","m":5,"v":0.6},{"r":"SE","s":"rd","m":6,"v":0.38},{"r":"SE","s":"rd","m":7,"v":0.1},{"r":"SE","s":"rd","m":8,"v":0.27},{"r":"SE","s":"rd","m":9,"v":0.43},{"r":"SE","s":"rd","m":10,"v":0.68},{"r":"SE","s":"rd","m":11,"v":0.69},{"r":"SE","s":"rd","m":12,"v":0.4},
{"r":"SE","s":"r1","m":1,"v":0.23},{"r":"SE","s":"r1","m":2,"v":0.23},{"r":"SE","s":"r1","m":3,"v":0.23},{"r":"SE","s":"r1","m":4,"v":0.35},{"r":"SE","s":"r1","m":5,"v":0.39},{"r":"SE","s":"r1","m":6,"v":0.19},{"r":"SE","s":"r1","m":7,"v":0.15},{"r":"SE","s":"r1","m":8,"v":0.23},{"r":"SE","s":"r1","m":9,"v":0.23},{"r":"SE","s":"r1","m":10,"v":0.08},{"r":"SE","s":"r1","m":11,"v":-0.02},{"r":"SE","s":"r1","m":12,"v":0.13},
{"r":"SE","s":"r2","m":1,"v":-0.43},{"r":"SE","s":"r2","m":2,"v":-0.5},{"r":"SE","s":"r2","m":3,"v":-0.36},{"r":"SE","s":"r2","m":4,"v":-0.37},{"r":"SE","s":"r2","m":5,"v":-0.82},{"r":"SE","s":"r2","m":6,"v":-1.09},{"r":"SE","s":"r2","m":7,"v":-1.06},{"r":"SE","s":"r2","m":8,"v":-0.68},{"r":"SE","s":"r2","m":9,"v":-0.39},{"r":"SE","s":"r2","m":10,"v":-0.28},{"r":"SE","s":"r2","m":11,"v":-0.27},{"r":"SE","s":"r2","m":12,"v":-0.32},
{"r":"SE","s":"r3","m":1,"v":-0.53},{"r":"SE","s":"r3","m":2,"v":-0.71},{"r":"SE","s":"r3","m":3,"v":-0.83},{"r":"SE","s":"r3","m":4,"v":-0.83},{"r":"SE","s":"r3","m":5,"v":-0.89},{"r":"SE","s":"r3","m":6,"v":-0.93},{"r":"SE","s":"r3","m":7,"v":-1.1},{"r":"SE","s":"r3","m":8,"v":-0.95},{"r":"SE","s":"r3","m":9,"v":-0.44},{"r":"SE","s":"r3","m":10,"v":-0.45},{"r":"SE","s":"r3","m":11,"v":-0.24},{"r":"SE","s":"r3","m":12,"v":-0.46},
{"r":"SE","s":"r4","m":1,"v":-0.58},{"r":"SE","s":"r4","m":2,"v":-0.7},{"r":"SE","s":"r4","m":3,"v":-0.98},{"r":"SE","s":"r4","m":4,"v":-1.39},{"r":"SE","s":"r4","m":5,"v":-1.4},{"r":"SE","s":"r4","m":6,"v":-1.35},{"r":"SE","s":"r4","m":7,"v":-1.13},{"r":"SE","s":"r4","m":8,"v":-1.04},{"r":"SE","s":"r4","m":9,"v":-0.6},{"r":"SE","s":"r4","m":10,"v":-0.38},{"r":"SE","s":"r4","m":11,"v":-0.37},{"r":"SE","s":"r4","m":12,"v":-0.48},
{"r":"SE","s":"bd","m":1,"v":-0.18},{"r":"SE","s":"bd","m":2,"v":-0.36},{"r":"SE","s":"bd","m":3,"v":-0.22},{"r":"SE","s":"bd","m":4,"v":0.03},{"r":"SE","s":"bd","m":5,"v":-0.12},{"r":"SE","s":"bd","m":6,"v":-0.17},{"r":"SE","s":"bd","m":7,"v":-0.13},{"r":"SE","s":"bd","m":8,"v":0.05},{"r":"SE","s":"bd","m":9,"v":0.17},{"r":"SE","s":"bd","m":10,"v":0.32},{"r":"SE","s":"bd","m":11,"v":0.42},{"r":"SE","s":"bd","m":12,"v":0.1},
{"r":"SE","s":"b1","m":1,"v":1.02},{"r":"SE","s":"b1","m":2,"v":1.21},{"r":"SE","s":"b1","m":3,"v":1.05},{"r":"SE","s":"b1","m":4,"v":0.9},{"r":"SE","s":"b1","m":5,"v":0.73},{"r":"SE","s":"b1","m":6,"v":0.62},{"r":"SE","s":"b1","m":7,"v":0.45},{"r":"SE","s":"b1","m":8,"v":0.35},{"r":"SE","s":"b1","m":9,"v":0.41},{"r":"SE","s":"b1","m":10,"v":0.3},{"r":"SE","s":"b1","m":11,"v":0.5},{"r":"SE","s":"b1","m":12,"v":0.28},
{"r":"SE","s":"b2","m":1,"v":0.42},{"r":"SE","s":"b2","m":2,"v":0.66},{"r":"SE","s":"b2","m":3,"v":0.76},{"r":"SE","s":"b2","m":4,"v":0.91},{"r":"SE","s":"b2","m":5,"v":0.85},{"r":"SE","s":"b2","m":6,"v":0.6},{"r":"SE","s":"b2","m":7,"v":0.61},{"r":"SE","s":"b2","m":8,"v":0.26},{"r":"SE","s":"b2","m":9,"v":0.31},{"r":"SE","s":"b2","m":10,"v":0.37},{"r":"SE","s":"b2","m":11,"v":0.21},{"r":"SE","s":"b2","m":12,"v":0.27},
{"r":"SE","s":"b3","m":1,"v":0.31},{"r":"SE","s":"b3","m":2,"v":0.31},{"r":"SE","s":"b3","m":3,"v":0.7},{"r":"SE","s":"b3","m":4,"v":0.83},{"r":"SE","s":"b3","m":5,"v":0.8},{"r":"SE","s":"b3","m":6,"v":0.63},{"r":"SE","s":"b3","m":7,"v":0.48},{"r":"SE","s":"b3","m":8,"v":0.37},{"r":"SE","s":"b3","m":9,"v":0.33},{"r":"SE","s":"b3","m":10,"v":0.2},{"r":"SE","s":"b3","m":11,"v":0.36},{"r":"SE","s":"b3","m":12,"v":0.49},
{"r":"SE","s":"b4","m":1,"v":0.23},{"r":"SE","s":"b4","m":2,"v":0.06},{"r":"SE","s":"b4","m":3,"v":0.4},{"r":"SE","s":"b4","m":4,"v":0.67},{"r":"SE","s":"b4","m":5,"v":0.85},{"r":"SE","s":"b4","m":6,"v":0.6},{"r":"SE","s":"b4","m":7,"v":0.43},{"r":"SE","s":"b4","m":8,"v":0.24},{"r":"SE","s":"b4","m":9,"v":0.12},{"r":"SE","s":"b4","m":10,"v":0.07},{"r":"SE","s":"b4","m":11,"v":0.3},{"r":"SE","s":"b4","m":12,"v":0.05}
]},
"facet": {"field": "r", "type": "nominal", "sort": ["US","nGP","NW","NE","GP","sGP","SW","SE"], "title": null,
  "header": {"labelFontSize": 40, "labelFont": "Roboto", "labelFontWeight": 300, "labelColor": "#1a1a1a", "labelPadding": 7}},
"columns": 4,
"spacing": {"column": 31, "row": 86},
"resolve": {"axis": {"x": "independent", "y": "independent"}},
"spec": {
  "width": 277,
  "height": 344,
  "layer": [
    {"transform": [{"filter": "datum.s == 'b1' && datum.m == 1"}],
     "mark": {"type": "rule", "color": "#a6a6a6", "strokeWidth": 1.2},
     "encoding": {"y": {"datum": 0.4, "type": "quantitative"}}},
    {"transform": [{"filter": "datum.s == 'b1' && datum.m == 1"}],
     "mark": {"type": "rule", "color": "#a6a6a6", "strokeWidth": 1.2},
     "encoding": {"y": {"datum": -0.4, "type": "quantitative"}}},
    {"transform": [{"filter": "datum.s == 'b1' && datum.m == 1"}],
     "mark": {"type": "rule", "color": "#9a9a9a", "strokeWidth": 3},
     "encoding": {"y": {"datum": 0, "type": "quantitative"}}},
    {"mark": {"type": "line", "strokeWidth": 1.2},
     "encoding": {
       "x": {"field": "m", "type": "quantitative", "scale": {"domain": [1, 12], "nice": false, "zero": false},
             "axis": {"values": [1,2,3,4,5,6,7,8,9,10,11,12], "format": "d", "labelFlush": false, "labelOverlap": false, "labelFontSize": 16, "labelPadding": 1}},
       "y": {"field": "v", "type": "quantitative", "scale": {"domain": [-2, 2], "nice": false, "zero": false},
             "axis": {"values": [-2,-1.5,-1,-0.5,0,0.5,1,1.5,2], "format": "~g", "labelFontSize": 14, "labelPadding": 2}},
       "color": {"field": "s", "type": "nominal", "legend": null,
                 "scale": {"domain": ["r1","r2","r3","r4","rd","b1","b2","b3","b4","bd"],
                           "range": ["#f03a2a","#f03a2a","#f03a2a","#f03a2a","#f03a2a","#3a3a9e","#3a3a9e","#3a3a9e","#3a3a9e","#3a3a9e"]}},
       "strokeDash": {"field": "s", "type": "nominal", "legend": null,
                 "scale": {"domain": ["r1","r2","r3","r4","rd","b1","b2","b3","b4","bd"],
                           "range": [[1,0],[1,0],[1,0],[1,0],[5,3],[1,0],[1,0],[1,0],[1,0],[5,3]]}},
       "order": {"field": "m", "type": "quantitative"}
     }}
  ]
},
"config": {
  "view": {"stroke": "#111111", "strokeWidth": 3.5},
  "axis": {"grid": false, "domain": false, "ticks": true, "tickSize": 4, "tickColor": "#111111", "tickWidth": 1.5,
           "labelFont": "Liberation Sans Narrow, Liberation Sans", "labelFontWeight": "bold", "labelColor": "#111111", "title": null}
}
}
